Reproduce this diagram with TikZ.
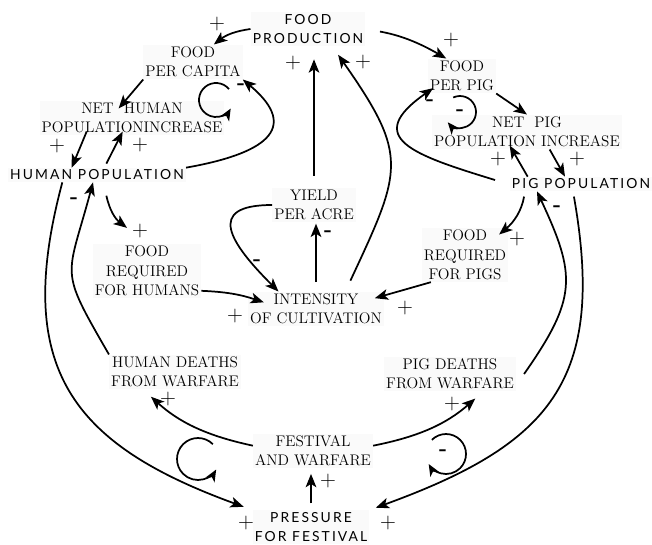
\documentclass[tikz,border=0pt]{standalone}
\usepackage{fontspec}
\newfontfamily\spacedsans[LetterSpace=15]{Lato}
\usetikzlibrary{arrows.meta, positioning}

\begin{document}
\begin{tikzpicture}[
    x=0.75pt, y=0.75pt,
    var/.style={align=center, font=\fontsize{11.5}{14.5}\selectfont, fill=black!2, inner sep=1.5pt},
    stock/.style={align=center, font=\spacedsans\fontsize{10.4}{14.5}\selectfont, fill=black!2, inner sep=1.5pt},
    link/.style={draw=black, line width=1.3pt, -{Stealth[length=10pt, width=8pt, inset=2.5pt]}},
    loop_style/.style={draw=black, line width=1.3pt, -{Stealth[length=9pt, width=7.5pt, inset=2.5pt]}},
    pos_sign/.style={font=\fontsize{16.5}{16.5}\selectfont, inner sep=0pt},
    neg_sign/.style={font=\bfseries\fontsize{16}{16}\selectfont, inner sep=0pt}
]

\useasboundingbox (0,0) rectangle (652,-544);

% Food nodes
\node[stock] (fprod) at (308,-29) {FOOD\\PRODUCTION};
\node[var] (fcap) at (193,-62) {FOOD\\PER CAPITA};
\node[var] (fpig) at (462,-76) {FOOD\\PER PIG};

% Human side
\node[var] (nethum) at (132,-118) {NET~~HUMAN\\POPULATIONINCREASE};
\node[stock] (hpop) at (97,-175) {HUMAN POPULATION};
\node[var] (freqh) at (147,-271) {FOOD\\REQUIRED\\FOR HUMANS};
\node[var] (hdeath) at (175,-372) {HUMAN DEATHS\\FROM WARFARE};

% Pig side
\node[var] (netpig) at (527,-132) {NET~~PIG\\POPULATION INCREASE};
\node[stock] (ppop) at (581,-184) {PIG POPULATION};
\node[var] (freqp) at (465,-255) {FOOD\\REQUIRED\\FOR PIGS};
\node[var] (pdeath) at (450,-374) {PIG DEATHS\\FROM WARFARE};

% Middle column
\node[var] (yield) at (314,-205) {YIELD\\PER ACRE};
\node[var] (intens) at (316,-309) {INTENSITY\\OF CULTIVATION};
\node[var] (fest) at (313,-451) {FESTIVAL\\AND WARFARE};
\node[stock] (press) at (311,-527) {PRESSURE\\FOR FESTIVAL};

% Food production links
\draw[link] (fprod.west) to[bend right=15] (fcap.40);
\draw[link, shorten <=11pt] (fprod.east) to[bend left=10] (fpig.132);
\draw[link, shorten <=9pt, shorten >=10pt] (yield.north) -- (yield.north |- fprod.south);
\draw[link, shorten <=9pt, shorten >=8pt] ([xshift=22pt]intens.north) to[out=65, in=-55, looseness=1.4] ([xshift=18pt]fprod.south);

% Cultivation links
\draw[link, shorten <=7pt, shorten >=1pt] (intens.north) -- (intens.north |- yield.south);
\draw[link] (yield.west) to[out=180, in=135, looseness=2] (intens.155);
\draw[link] (freqh.-20) to[bend left=8] ([xshift=12pt, yshift=5pt]intens.west);
\draw[link] ([xshift=7pt]freqp.south west) -- ([xshift=-7pt, yshift=-5pt]intens.north east);
\draw[link] ([xshift=7pt, yshift=-10pt]hpop.south) to[bend right=20] ([xshift=-15pt, yshift=12pt]freqh.north);
\draw[link, shorten <=4pt] ([xshift=-42pt]ppop.south) to[out=-100, in=40] ([xshift=-7pt, yshift=-5pt]freqp.north east);

% Human population links
\draw[link] (fcap.south west) -- ([xshift=-10pt, yshift=-6pt]nethum.north);
\draw[link] ([xshift=-34pt, yshift=3pt]nethum.south) -- ([xshift=-19pt]hpop.north);
\draw[link] ([xshift=7pt, yshift=3pt]hpop.north) -- ([xshift=-7pt, yshift=3pt]nethum.south);
\draw[link] (hpop.north east) to[out=10, in=-40, looseness=1.9] (fcap.south east);

% Pig population links
\draw[link] (fpig.south east) -- (netpig.north);
\draw[link] ([xshift=17pt]netpig.south) -- ([xshift=-12pt]ppop.north);
\draw[link] ([xshift=-40pt]ppop.north) -- ([xshift=-13pt, yshift=3pt]netpig.south);
\draw[link] ([xshift=-11pt, yshift=3pt]ppop.west) to[out=163, in=-145, looseness=2] ([xshift=4pt, yshift=4pt]fpig.south west);

% Warfare links
\draw[link, shorten >=7pt] ([xshift=-26pt]hpop.south) to[out=-105, in=160, looseness=1.3] (press.north west);
\draw[link] (hdeath.north west) to[out=120, in=-105, looseness=1.5] ([xshift=-3pt]hpop.south);
\draw[link, shorten >=8pt] ([yshift=4pt]fest.west) to[bend left=15] ([xshift=-24pt]hdeath.south);
\draw[link, shorten >=8pt] ([yshift=4pt]fest.east) to[bend right=15] ([xshift=25pt]pdeath.south);
\draw[link, shorten <=5pt, shorten >=4pt] (press.north) -- (press.north |- fest.south);
\draw[link, shorten <=4pt, shorten >=5pt] ([xshift=-6pt]ppop.south) to[out=-80, in=20, looseness=1.3] (press.north east);
\draw[link] ([xshift=6pt]pdeath.east) to[out=55, in=-65, looseness=1.3] ([xshift=-33pt]ppop.south);

% Loop markers
\coordinate (capcycle) at (216,-100);
\coordinate (pigcycle) at (460,-112);
\coordinate (warcycle) at (198,-459);
\coordinate (festcycle) at (446,-454);
\draw[loop_style] (capcycle) ++(40:17) arc[start angle=40, end angle=330, radius=17];
\draw[loop_style] (pigcycle) ++(115:16) arc[start angle=115, end angle=-140, radius=16];
\draw[loop_style] (warcycle) ++(45:21) arc[start angle=45, end angle=330, radius=21];
\draw[loop_style] (festcycle) ++(135:20) arc[start angle=135, end angle=-150, radius=20];

% Polarity signs
\foreach \x/\y [count=\i] in {217/24, 451/40, 293/63, 363/62, 57/146, 140/145, 498/159, 577/159,
    140/231, 517/239, 235/316, 405/308, 168/399, 452/404, 328/481, 246/523, 388/523}
    \node[pos_sign] (plus\i) at (\x,-\y) {+};
\foreach \x/\y [count=\i] in {241/87, 430/103, 460/113, 74/201, 557/209, 328/234, 257/263, 443/453}
    \node[neg_sign] (minus\i) at (\x,-\y) {-};

\end{tikzpicture}
\end{document}
